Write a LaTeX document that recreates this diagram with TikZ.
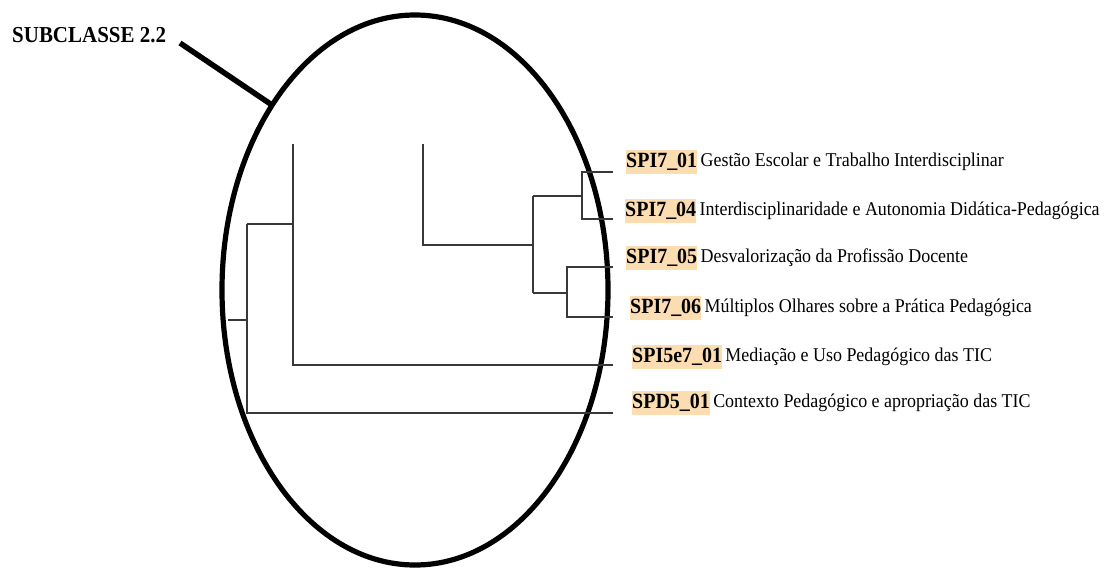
\documentclass[tikz,border=0pt]{standalone}
\usepackage{fontspec}
\usetikzlibrary{shapes.geometric}
\setmainfont{Liberation Serif}
% slightly condensed serif faces for the labels
\newfontfamily\narrowserif{Liberation Serif}[FakeStretch=0.92]
\definecolor{hl}{HTML}{FCDDB2}
\definecolor{branch}{HTML}{383838}
\begin{document}
\begin{tikzpicture}[x=1pt,y=-1pt,
  codebox/.style={anchor=west,fill=hl,inner xsep=0pt,inner ysep=0pt,minimum height=24pt,
    font=\narrowserif\fontsize{21.7}{24}\selectfont\bfseries},
  desc/.style={anchor=west,inner sep=0pt,font=\narrowserif\fontsize{19.5}{22}\selectfont},
  branchline/.style={draw=branch,line width=2.1pt},
  ring/.style={draw=black,line width=5.2pt},
  pointer/.style={draw=black,line width=5.5pt}]
\useasboundingbox (0,0) rectangle (1105,570);

% title and pointer to the selected region
\node[anchor=west,inner sep=0pt,font=\narrowserif\fontsize{22.8}{26}\selectfont\bfseries] (title) at (12,35) {SUBCLASSE 2.2};
\coordinate (ptrA) at (180,43);
\coordinate (ptrB) at (272,105);
\draw[pointer] (ptrA) -- (ptrB);

% ellipse around the dendrogram
\node[ring,ellipse,minimum width=386pt,minimum height=550pt,inner sep=0pt] (ring) at (415,290) {};

% leaf ends
\coordinate (e1) at (613,172);
\coordinate (e2) at (613,219);
\coordinate (e3) at (613,267);
\coordinate (e4) at (613,317);
\coordinate (e5) at (613,365);
\coordinate (e6) at (613,413);

% inner joins
\coordinate (j12a) at (582,172);
\coordinate (j12b) at (582,219);
\coordinate (j12m) at (582,196);
\coordinate (j34a) at (567,267);
\coordinate (j34b) at (567,317);
\coordinate (j34m) at (567,293);
\coordinate (jAa) at (533,196);
\coordinate (jAb) at (533,293);
\coordinate (jAm) at (533,245);
\coordinate (jBm) at (423,245);
\coordinate (jBt) at (423,144);
\coordinate (jCt) at (293,144);
\coordinate (jCm) at (293,224);
\coordinate (jCb) at (293,365);
\coordinate (jRt) at (247,224);
\coordinate (jRm) at (247,320);
\coordinate (jRb) at (247,413);
\coordinate (root) at (228,320);

% dendrogram branches
\draw[branchline] (e1) -- (j12a) -- (j12b) -- (e2);
\draw[branchline] (j12m) -- (jAa);
\draw[branchline] (e3) -- (j34a) -- (j34b) -- (e4);
\draw[branchline] (j34m) -- (jAb);
\draw[branchline] (jAa) -- (jAb);
\draw[branchline] (jAm) -- (jBm) -- (jBt);
\draw[branchline] (jCt) -- (jCb) -- (e5);
\draw[branchline] (jRt) -- (jCm);
\draw[branchline] (jRt) -- (jRb) -- (e6);
\draw[branchline] (root) -- (jRm);

% leaf labels
\node[codebox] (c1) at (626,162) {SPI7\_01};
\node[desc] (d1) at ([xshift=3pt]c1.east) {Gestão Escolar e Trabalho Interdisciplinar};
\node[codebox] (c2) at (625,211) {SPI7\_04};
\node[desc] (d2) at ([xshift=3pt]c2.east) {Interdisciplinaridade e Autonomia Didática-Pedagógica};
\node[codebox] (c3) at (626,258) {SPI7\_05};
\node[desc] (d3) at ([xshift=3pt]c3.east) {Desvalorização da Profissão Docente};
\node[codebox] (c4) at (630,308) {SPI7\_06};
\node[desc] (d4) at ([xshift=3pt]c4.east) {Múltiplos Olhares sobre a Prática Pedagógica};
\node[codebox] (c5) at (632,357) {SPI5e7\_01};
\node[desc] (d5) at ([xshift=3pt]c5.east) {Mediação e Uso Pedagógico das TIC};
\node[codebox] (c6) at (632,403) {SPD5\_01};
\node[desc] (d6) at ([xshift=3pt]c6.east) {Contexto Pedagógico e apropriação das TIC};
\end{tikzpicture}
\end{document}
